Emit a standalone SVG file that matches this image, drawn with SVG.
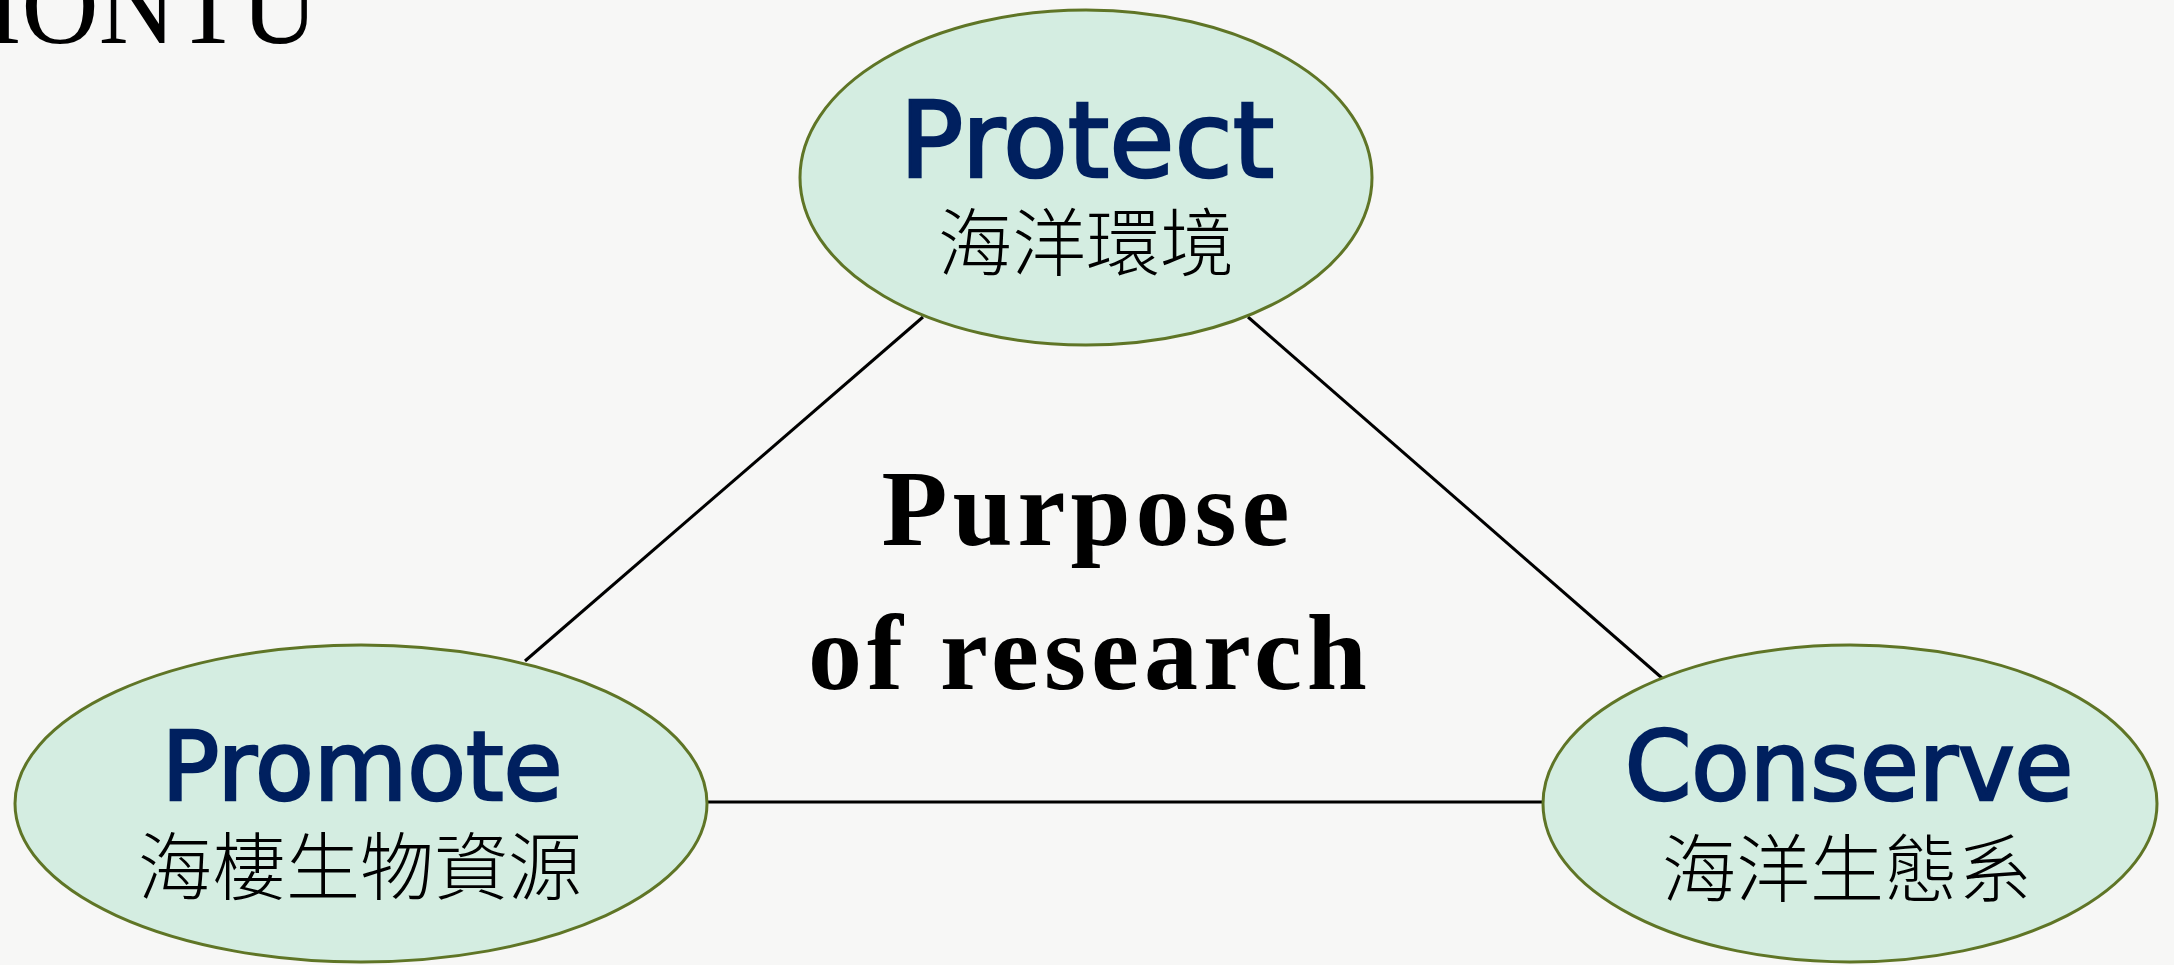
<svg xmlns="http://www.w3.org/2000/svg" width="2174" height="965" viewBox="0 0 2174 965">
  <style>
    .bg { fill: #F7F7F6; }
    .node { fill: #D4EDE1; stroke: #5F7526; stroke-width: 3; }
    .conn { stroke: #000000; stroke-width: 3; fill: none; }
    .en { font-family: "DejaVu Sans", "Liberation Sans", sans-serif; fill: #00205F; stroke: #00205F; stroke-width: 2.6; text-anchor: middle; }
    .zh { font-family: "Noto Sans CJK TC", "Noto Sans CJK JP", sans-serif; font-size: 74px; fill: #000000; text-anchor: middle; font-weight: 300; }
    .title { font-family: "Liberation Serif", serif; font-weight: bold; font-size: 108px; letter-spacing: 5px; fill: #000000; text-anchor: middle; }
    .corner { font-family: "Liberation Serif", serif; font-size: 112px; fill: #000000; }
  </style>
  <rect class="bg" x="0" y="0" width="2174" height="965"/>
  <text class="corner" x="-14" y="43" textLength="332" lengthAdjust="spacingAndGlyphs">IONTU</text>
  <g id="connectors">
    <line class="conn" x1="923" y1="317" x2="525" y2="661"/>
    <line class="conn" x1="1248" y1="317" x2="1662" y2="678"/>
    <line class="conn" x1="700" y1="802" x2="1550" y2="802"/>
  </g>
  <g id="center-label">
    <text class="title" x="1088" y="545">Purpose</text>
    <text class="title" x="1090" y="689">of research</text>
  </g>
  <g id="node-protect">
    <ellipse class="node" cx="1086" cy="177.5" rx="286" ry="167.5"/>
    <text class="en" x="1087" y="177" font-size="106">Protect</text>
    <text class="zh" x="1086" y="270">海洋環境</text>
  </g>
  <g id="node-promote">
    <ellipse class="node" cx="361" cy="803.5" rx="346" ry="158.5"/>
    <text class="en" x="362" y="800" font-size="96">Promote</text>
    <text class="zh" x="360" y="894">海棲生物資源</text>
  </g>
  <g id="node-conserve">
    <ellipse class="node" cx="1850" cy="803.5" rx="307" ry="158.5"/>
    <text class="en" x="1849" y="800" font-size="95.5">Conserve</text>
    <text class="zh" x="1847" y="896">海洋生態系</text>
  </g>
</svg>
